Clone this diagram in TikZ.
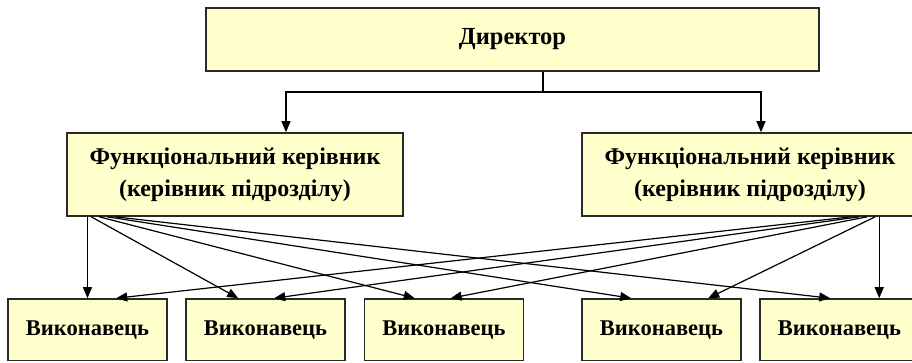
\documentclass[tikz,border=0pt]{standalone}
\usepackage{fontspec}
\setmainfont{Liberation Serif}
\usetikzlibrary{arrows.meta,calc}
\definecolor{boxfill}{HTML}{FFFFCC}
\definecolor{boxline}{HTML}{2A2A2A}
\begin{document}
\begin{tikzpicture}[x=1pt,y=-1pt,
  box/.style={draw=boxline,line width=1.6pt,fill=boxfill,inner sep=0pt,
    font=\bfseries\fontsize{24}{32}\selectfont,align=center},
  execbox/.style={box,minimum width=159pt,minimum height=61.5pt,
    font=\bfseries\fontsize{22.5}{27}\selectfont},
  mgrbox/.style={box,minimum width=336pt,minimum height=83pt},
  wire/.style={line width=1.2pt,draw=black},
  link/.style={wire,-{Triangle[length=11pt,width=9pt]}},
]
\useasboundingbox (0,0) rectangle (912,362);

% top level
\node[box,minimum width=613pt,minimum height=63pt,
  font=\bfseries\fontsize{24.5}{30}\selectfont] (dir) at (512.5,39.5) {Директор};

% functional managers
\node[mgrbox] (lf) at (235,174.5) {Функціональний керівник\\(керівник підрозділу)};
\node[mgrbox] (rf) at (750,174.5) {Функціональний керівник\\(керівник підрозділу)};

% executors
\node[execbox] (e1) at (87.5,329.75) {Виконавець};
\node[execbox] (e2) at (265.5,329.75) {Виконавець};
\node[execbox] (e3) at (444,329.75) {Виконавець};
\node[execbox] (e4) at (661.5,329.75) {Виконавець};
\node[execbox] (e5) at (839.5,329.75) {Виконавець};

% director to managers
\coordinate (hub) at (543,92);
\draw[wire] (dir.south -| hub) -- (hub);
\draw[link] (hub) -| ($(lf.north)+(51,0)$);
\draw[link] (hub) -| ($(rf.north)+(11,0)$);

% left manager to executors
\draw[link] (e1.north |- lf.south) -- (e1.north);
\draw[link] ($(lf.south west)+(25,0)$) -- ($(e2.north west)+(53,0)$);
\draw[link] ($(lf.south west)+(33,0)$) -- ($(e3.north west)+(51,0)$);
\draw[link] ($(lf.south west)+(41,0)$) -- ($(e4.north west)+(50,0)$);
\draw[link] ($(lf.south west)+(49,0)$) -- ($(e5.north west)+(71,0)$);

% right manager to executors
\coordinate (e5top) at ($(e5.north west)+(120,0)$);
\draw[link] (e5top |- rf.south) -- (e5top);
\draw[link] ($(rf.south west)+(294,0)$) -- ($(e4.north west)+(127,0)$);
\draw[link] ($(rf.south west)+(286,0)$) -- ($(e3.north west)+(87,0)$);
\draw[link] ($(rf.south west)+(278,0)$) -- ($(e2.north west)+(89,0)$);
\draw[link] ($(rf.south west)+(270,0)$) -- ($(e1.north west)+(109,0)$);
\end{tikzpicture}
\end{document}
